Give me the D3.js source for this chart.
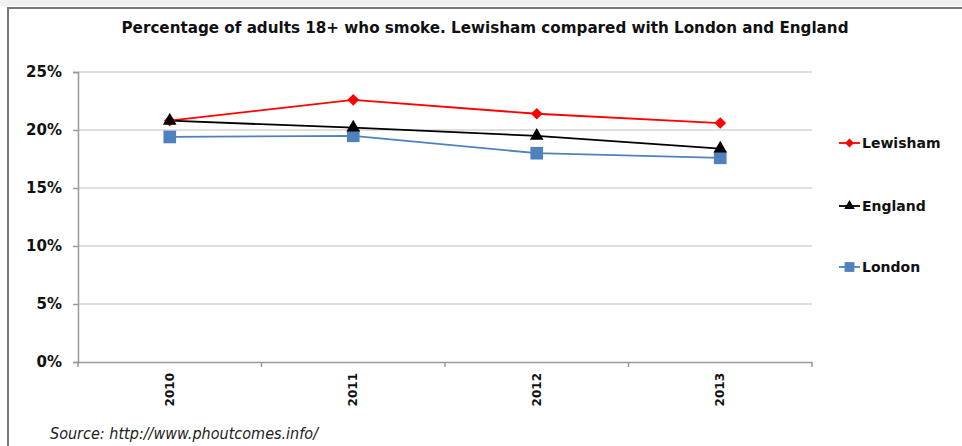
<!DOCTYPE html>
<html><head><meta charset="utf-8">
<script src="https://cdn.jsdelivr.net/npm/d3@7"></script>
<style>body{margin:0;background:#fff}svg{display:block}</style>
</head><body>
<script>
const years = ["2010","2011","2012","2013"];
const lewisham = [0.208, 0.226, 0.214, 0.206];
const england = [0.208, 0.202, 0.195, 0.184];
const london = [0.194, 0.195, 0.180, 0.176];
const yTicks = [0, 0.05, 0.10, 0.15, 0.20, 0.25];
const seriesNames = ["Lewisham", "England", "London"];
const title = "Percentage of adults 18+ who smoke. Lewisham compared with London and England";
const source = "Source: http://www.phoutcomes.info/";

const W = 962, H = 446;
const svg = d3.select("body").append("svg").attr("width", W).attr("height", H);
const bold = "'DejaVu Sans', Verdana, sans-serif";

// frame
svg.append("rect").attr("x",0).attr("y",0).attr("width",W).attr("height",6).attr("fill","#f0f0f0");
svg.append("line").attr("x1",7).attr("x2",W).attr("y1",8).attr("y2",8).attr("stroke","#777").attr("stroke-width",2);
svg.append("line").attr("x1",8).attr("x2",8).attr("y1",7).attr("y2",H).attr("stroke","#777").attr("stroke-width",2);

const x = d3.scaleBand().domain(years).range([78, 812]);
const y = d3.scaleLinear().domain([0, 0.25]).range([362, 72]);

// gridlines
svg.append("g").selectAll("line").data(yTicks.slice(1)).join("line")
  .attr("x1", 78).attr("x2", 812)
  .attr("y1", d => y(d)).attr("y2", d => y(d))
  .attr("stroke", "#d4d4d4").attr("stroke-width", 1.5);

// y axis
const yAxis = svg.append("g").attr("transform","translate(78,0)")
  .call(d3.axisLeft(y).tickValues(yTicks).tickFormat(d3.format(".0%")).tickSize(5).tickPadding(11));
yAxis.select(".domain").attr("stroke","#999").attr("stroke-width",1.5);
yAxis.selectAll(".tick line").attr("stroke","#999").attr("stroke-width",1.5);
yAxis.selectAll("text").attr("font-family", bold).attr("font-weight","bold").attr("font-size",15).attr("fill","#111");

// x axis
const xAxis = svg.append("g").attr("transform","translate(0,362)")
  .call(d3.axisBottom(x).tickSize(0).tickPadding(0));
xAxis.select(".domain").attr("stroke","#999").attr("stroke-width",1.5);
xAxis.selectAll("text")
  .attr("font-family", bold).attr("font-weight","bold").attr("font-size",12).attr("fill","#111")
  .attr("transform","rotate(-90)").attr("text-anchor","end").attr("dx", "-11").attr("dy","0.35em").attr("y",0).attr("x",0);
// band boundary ticks
const bounds = years.map(d => x(d)).concat([x.range()[1]]);
svg.append("g").selectAll("line").data(bounds).join("line")
  .attr("x1", d => d).attr("x2", d => d).attr("y1", 362).attr("y2", 367)
  .attr("stroke","#999").attr("stroke-width",1.5);

const cx = d => x(d) + x.bandwidth()/2;
const series = [
  {name: seriesNames[0], values: lewisham, color: "#ff0000", sym: d3.symbolSquare, size: 68, rot: 45},
  {name: seriesNames[1], values: england, color: "#000000", sym: d3.symbolTriangle, size: 80, rot: 0},
  {name: seriesNames[2], values: london, color: "#4f81bd", sym: d3.symbolSquare, size: 160, rot: 0}
];
const line = d3.line().x((d,i) => cx(years[i])).y(d => y(d));
series.forEach(s => {
  svg.append("path").datum(s.values).attr("d", line).attr("fill","none")
    .attr("stroke", s.color).attr("stroke-width", 1.8);
});
[series[0], series[2], series[1]].forEach(s => {
  svg.append("g").selectAll("path").data(s.values).join("path")
    .attr("d", d3.symbol().type(s.sym).size(s.size))
    .attr("transform", (d,i) => `translate(${cx(years[i])},${y(d)}) rotate(${s.rot})`)
    .attr("fill", s.color);
});

// legend
const legY = [143, 206, 267];
series.forEach((s, i) => {
  const g = svg.append("g").attr("transform", `translate(839,${legY[i]})`);
  g.append("line").attr("x1",0).attr("x2",21).attr("stroke", s.color).attr("stroke-width",1.8);
  g.append("path").attr("d", d3.symbol().type(s.sym).size(s.size*0.6))
    .attr("transform",`translate(10.5,0) rotate(${s.rot})`).attr("fill", s.color);
  g.append("text").attr("x",23).attr("dy","0.35em").text(s.name)
    .attr("font-family", bold).attr("font-weight","bold").attr("font-size",14).attr("fill","#111");
});

// title
svg.append("text").attr("x", 485).attr("y", 33).attr("text-anchor","middle")
  .attr("font-family", "'DejaVu Sans Condensed', 'DejaVu Sans', sans-serif").attr("font-weight","bold")
  .attr("font-size",16.5).attr("fill","#111")
  .attr("textLength", 727).attr("lengthAdjust","spacingAndGlyphs")
  .text(title);

// source
svg.append("text").attr("x", 50).attr("y", 439)
  .attr("font-family", "'DejaVu Sans Condensed', 'DejaVu Sans', sans-serif").attr("font-style","italic")
  .attr("font-size",15).attr("fill","#222")
  .attr("textLength", 268).attr("lengthAdjust","spacingAndGlyphs")
  .text(source);
</script>
</body></html>
